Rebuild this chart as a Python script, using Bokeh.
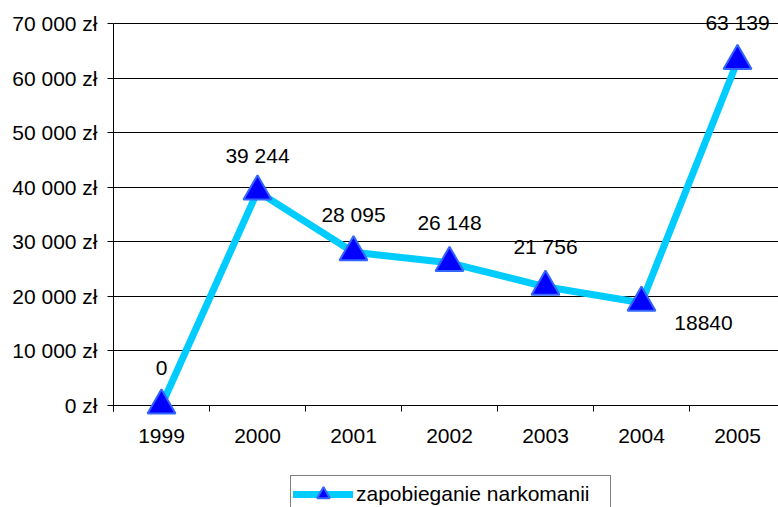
from bokeh.plotting import figure
from bokeh.layouts import column
from bokeh.models import (ColumnDataSource, Range1d, FixedTicker, LabelSet, Legend, LegendItem)
from bokeh.core.properties import value
from bokeh.embed import file_html
from bokeh.resources import INLINE

years = ["1999", "2000", "2001", "2002", "2003", "2004", "2005"]
values = [0, 39244, 28095, 26148, 21756, 18840, 63139]
value_labels = ["0", "39 244", "28 095", "26 148", "21 756", "18840", "63 139"]
y_ticks = [0, 10000, 20000, 30000, 40000, 50000, 60000, 70000]
series_name = "zapobieganie narkomanii"

FONT = "Liberation Sans"
FS = "21px"
LINE_COLOR = "#00CCFF"
MARK_FILL = "#0000FF"
MARK_LINE = "#3366FF"

xs = list(range(len(years)))
# label placement (screen px): most above, 2004 label below-right
x_offs = [0, 0, 0, 0, 0, 62, 0]
y_offs = [38, 36, 38, 40, 40, -20, 38]

src = ColumnDataSource(dict(x=xs, y=values, lab=value_labels, xo=x_offs, yo=y_offs))

# frame: canvas 0..418 px; value 70000 at 23 px and 0 at 405 px
Y_TOP = y_ticks[-1]
px = Y_TOP / 382.0
p = figure(width=778, height=475, output_backend="svg", toolbar_location=None,
           x_range=Range1d(-0.5, 6.427), y_range=Range1d(-13 * px, Y_TOP + 23 * px),
           min_border_left=113, min_border_right=0, min_border_top=0, min_border_bottom=57)
p.outline_line_color = None
p.background_fill_color = "white"
p.border_fill_color = "white"

yt = FixedTicker(ticks=y_ticks, minor_ticks=[])
p.yaxis.ticker = yt
p.ygrid.ticker = yt
p.ygrid.grid_line_color = "black"
p.ygrid.grid_line_width = 1
p.xgrid.grid_line_color = None
p.yaxis.bounds = (-6 * px, Y_TOP)
p.yaxis.major_label_overrides = {v: f"{v:,}".replace(",", " ") + " zł" for v in y_ticks}
p.yaxis.major_tick_out = 6
p.yaxis.major_tick_in = 0
p.yaxis.minor_tick_out = 0
p.yaxis.minor_tick_in = 0
p.yaxis.major_label_standoff = 10
p.yaxis.axis_line_color = "black"
p.yaxis.major_tick_line_color = "black"

# x axis sits at the frame bottom; the zero grid line acts as the axis line,
# and category-boundary ticks reach from the zero line 6 px downward
xt = FixedTicker(ticks=xs, minor_ticks=[i - 0.5 for i in range(len(years) + 1)])
p.xaxis.ticker = xt
p.xaxis.major_label_overrides = {i: y for i, y in zip(xs, years)}
p.xaxis.major_tick_out = 0
p.xaxis.major_tick_in = 0
p.xaxis.minor_tick_in = 13
p.xaxis.minor_tick_out = -7
p.xaxis.minor_tick_line_color = "black"
p.xaxis.major_label_standoff = 10
p.xaxis.axis_line_color = None

for ax in (p.xaxis[0], p.yaxis[0]):
    ax.major_label_text_font = FONT
    ax.major_label_text_font_size = FS
    ax.major_label_text_color = "black"

ln = p.line("x", "y", source=src, line_color=LINE_COLOR, line_width=7,
            line_join="round", line_cap="round")
sc = p.scatter("x", "y", source=src, marker="triangle", size=28,
               fill_color=MARK_FILL, line_color=MARK_LINE, line_width=2)

labels = LabelSet(x="x", y="y", text="lab", source=src, x_offset="xo", y_offset="yo",
                  text_align="center", text_baseline="middle",
                  text_font=value(FONT), text_font_size=value(FS), text_color="black")
p.add_layout(labels)

# legend strip below the chart (its ranges keep the series out of view; only the legend shows)
lg = figure(width=778, height=32, output_backend="svg", toolbar_location=None,
            x_range=Range1d(-20, -10), y_range=Range1d(0, 1),
            x_axis_type=None, y_axis_type=None,
            min_border_left=0, min_border_right=0, min_border_top=0, min_border_bottom=0)
lg.outline_line_color = None
lg.grid.visible = False
lg.background_fill_color = "white"
lg.border_fill_color = "white"
lln = lg.line("x", "y", source=src, line_color=LINE_COLOR, line_width=7,
              line_join="round", line_cap="round")
lsc = lg.scatter("x", "y", source=src, marker="triangle", size=28,
                 fill_color=MARK_FILL, line_color=MARK_LINE, line_width=2)

legend = Legend(items=[LegendItem(label=series_name, renderers=[lln, lsc])],
                location=(177, -6), orientation="vertical",
                glyph_width=60, glyph_height=32, label_standoff=3, label_width=252,
                padding=2, margin=0, spacing=0,
                label_text_font=FONT, label_text_font_size=FS, label_text_color="black",
                border_line_color="black", border_line_width=1,
                background_fill_color="white", background_fill_alpha=1.0)
lg.add_layout(legend, "center")

layout = column(p, lg, spacing=0)
open("out.html", "w").write(file_html(layout, INLINE))
